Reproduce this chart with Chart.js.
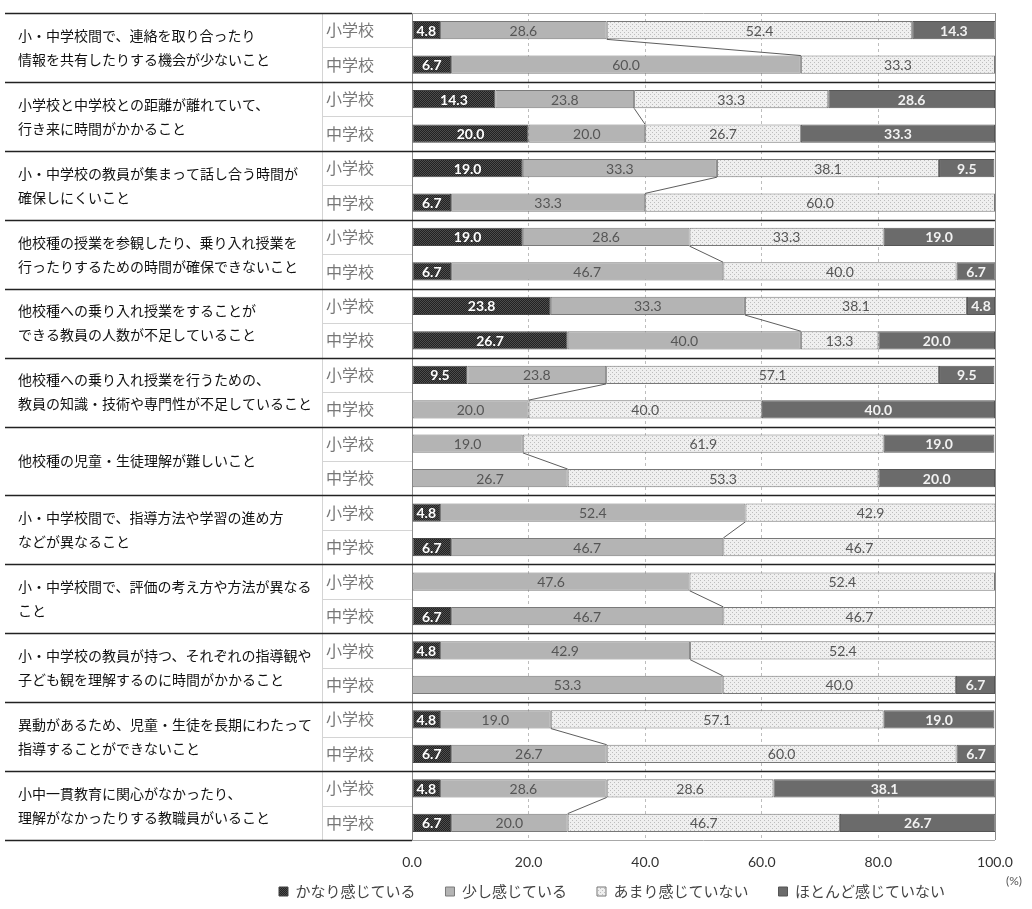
<!DOCTYPE html>
<html>
<head>
<meta charset="utf-8">
<script src="https://cdn.jsdelivr.net/npm/chart.js@4.4.1/dist/chart.umd.min.js"></script>
<style>
  html, body { margin: 0; padding: 0; background: #fff; }
</style>
</head>
<body>
<canvas id="grafico" width="1032" height="909"></canvas>
<script>
// 課題カテゴリ（2行表示の改行位置は元図どおり）
const categories = [
  ['小・中学校間で、連絡を取り合ったり', '情報を共有したりする機会が少ないこと'],
  ['小学校と中学校との距離が離れていて、', '行き来に時間がかかること'],
  ['小・中学校の教員が集まって話し合う時間が', '確保しにくいこと'],
  ['他校種の授業を参観したり、乗り入れ授業を', '行ったりするための時間が確保できないこと'],
  ['他校種への乗り入れ授業をすることが', 'できる教員の人数が不足していること'],
  ['他校種への乗り入れ授業を行うための、', '教員の知識・技術や専門性が不足していること'],
  ['他校種の児童・生徒理解が難しいこと'],
  ['小・中学校間で、指導方法や学習の進め方', 'などが異なること'],
  ['小・中学校間で、評価の考え方や方法が異なる', 'こと'],
  ['小・中学校の教員が持つ、それぞれの指導観や', '子ども観を理解するのに時間がかかること'],
  ['異動があるため、児童・生徒を長期にわたって', '指導することができないこと'],
  ['小中一貫教育に関心がなかったり、', '理解がなかったりする教職員がいること']
];
const schools = ['小学校', '中学校'];
const seriesNames = ['かなり感じている', '少し感じている', 'あまり感じていない', 'ほとんど感じていない'];

// 値は [カテゴリ1 小学校, カテゴリ1 中学校, カテゴリ2 小学校, ...] の順
const kanari  = [4.8, 6.7, 14.3, 20.0, 19.0, 6.7, 19.0, 6.7, 23.8, 26.7, 9.5, 0, 0, 0, 4.8, 6.7, 0, 6.7, 4.8, 0, 4.8, 6.7, 4.8, 6.7];
const sukoshi = [28.6, 60.0, 23.8, 20.0, 33.3, 33.3, 28.6, 46.7, 33.3, 40.0, 23.8, 20.0, 19.0, 26.7, 52.4, 46.7, 47.6, 46.7, 42.9, 53.3, 19.0, 26.7, 28.6, 20.0];
const amari   = [52.4, 33.3, 33.3, 26.7, 38.1, 60.0, 33.3, 40.0, 38.1, 13.3, 57.1, 40.0, 61.9, 53.3, 42.9, 46.7, 52.4, 46.7, 52.4, 40.0, 57.1, 60.0, 28.6, 46.7];
const hotondo = [14.3, 0, 28.6, 33.3, 9.5, 0, 19.0, 6.7, 4.8, 20.0, 9.5, 40.0, 19.0, 20.0, 0, 0, 0, 0, 0, 6.7, 19.0, 6.7, 38.1, 26.7];

const xTicks = [0, 20, 40, 60, 80, 100];

const rowLabels = [];
categories.forEach(() => rowLabels.push(...schools));

function makePattern(bg, dot, size) {
    const c = document.createElement('canvas');
    c.width = size; c.height = size;
    const g = c.getContext('2d');
    g.fillStyle = bg; g.fillRect(0, 0, size, size);
    g.fillStyle = dot;
    g.fillRect(0, 0, 1, 1);
    g.fillRect(size / 2, size / 2, 1, 1);
    return g.createPattern(c, 'repeat');
}

const jpFont = '"Noto Sans CJK JP", "Noto Sans", sans-serif';
const numFont = 'Lato, "Open Sans", sans-serif';

const labelStyles = [
    { color: '#ffffff', weight: 'bold' },
    { color: '#555555', weight: 'normal' },
    { color: '#555555', weight: 'normal' },
    { color: '#f2f2f2', weight: 'bold' }
];

// 数値ラベル
const valueLabels = {
    id: 'valueLabels',
    afterDatasetsDraw(chart) {
        const ctx = chart.ctx;
        ctx.save();
        ctx.textAlign = 'center';
        ctx.textBaseline = 'middle';
        chart.data.datasets.forEach((ds, di) => {
            const st = labelStyles[di];
            ctx.font = st.weight + ' 14px ' + numFont;
            ctx.fillStyle = st.color;
            chart.getDatasetMeta(di).data.forEach((bar, i) => {
                const v = ds.data[i];
                if (!v) return;
                ctx.fillText(v.toFixed(1), (bar.x + bar.base) / 2, bar.y + 1);
            });
        });
        ctx.restore();
    }
};

// 区切り線・項目名・系列線・目盛り
const decorations = {
    id: 'decorations',
    beforeDatasetsDraw(chart) {
        const ctx = chart.ctx;
        const area = chart.chartArea;
        const yScale = chart.scales.y;
        const rowH = yScale.getPixelForValue(1) - yScale.getPixelForValue(0);
        ctx.save();
        // ラベル列の薄い区切り
        ctx.strokeStyle = '#d4d4d4';
        ctx.lineWidth = 1;
        for (let r = 0; r < rowLabels.length; r += 2) {
            const y = Math.round(yScale.getPixelForValue(r) + rowH / 2) + 0.5;
            ctx.beginPath(); ctx.moveTo(322, y); ctx.lineTo(area.left, y); ctx.stroke();
        }
        ctx.beginPath(); ctx.moveTo(322.5, area.top); ctx.lineTo(322.5, area.bottom); ctx.stroke();
        // グループ境界
        for (let g = 0; g <= categories.length; g++) {
            const y = Math.round(yScale.getPixelForValue(g * 2) - rowH / 2) + 0.5;
            const edge = g === 0 || g === categories.length;
            ctx.strokeStyle = '#222';
            ctx.lineWidth = 1.3;
            ctx.beginPath(); ctx.moveTo(5, y); ctx.lineTo(edge ? area.left : area.right, y); ctx.stroke();
            if (edge) {
                ctx.strokeStyle = '#a8a8a8';
                ctx.lineWidth = 1;
                ctx.beginPath(); ctx.moveTo(area.left, y); ctx.lineTo(area.right, y); ctx.stroke();
            }
        }
        // 右端 100 の実線
        const x100 = Math.round(chart.scales.x.getPixelForValue(100)) + 0.5;
        ctx.strokeStyle = '#8c8c8c';
        ctx.lineWidth = 1;
        ctx.beginPath(); ctx.moveTo(x100, area.top); ctx.lineTo(x100, area.bottom); ctx.stroke();
        ctx.restore();
    },
    afterDatasetsDraw(chart) {
        const ctx = chart.ctx;
        const meta = chart.getDatasetMeta(1);
        ctx.save();
        ctx.strokeStyle = '#333';
        ctx.lineWidth = 0.8;
        for (let g = 0; g < categories.length; g++) {
            const a = meta.data[g * 2], b = meta.data[g * 2 + 1];
            ctx.beginPath();
            ctx.moveTo(a.x, a.y + a.height / 2);
            ctx.lineTo(b.x, b.y - b.height / 2);
            ctx.stroke();
        }
        ctx.restore();
    },
    afterDraw(chart) {
        const ctx = chart.ctx;
        const yScale = chart.scales.y;
        const xScale = chart.scales.x;
        ctx.save();
        ctx.fillStyle = '#111';
        ctx.font = '14px ' + jpFont;
        ctx.textAlign = 'left';
        ctx.textBaseline = 'middle';
        categories.forEach((lines, g) => {
            const cy = (yScale.getPixelForValue(g * 2) + yScale.getPixelForValue(g * 2 + 1)) / 2;
            const start = cy - (lines.length - 1) * 12;
            lines.forEach((t, k) => ctx.fillText(t, 18, start + k * 24));
        });
        // x 軸目盛りラベル（凡例と重なる位置なので自前で描く）
        ctx.fillStyle = '#333';
        ctx.font = '14px ' + numFont;
        ctx.textAlign = 'center';
        xScale.ticks.forEach(t => {
            ctx.fillText(t.value.toFixed(1), xScale.getPixelForValue(t.value), chart.chartArea.bottom + 22);
        });
        ctx.fillStyle = '#555';
        ctx.font = '12px ' + numFont;
        ctx.textAlign = 'left';
        ctx.fillText('(%)', 1006, 881);
        ctx.restore();
    }
};

const ctx = document.getElementById('grafico').getContext('2d');
const patKanari = makePattern('#222222', '#4d4d4d', 2);
const patAmari = makePattern('#efefef', '#bdbdbd', 4);

window.graficoInstancia = new Chart(ctx, {
    type: 'bar',
    data: {
        labels: rowLabels,
        datasets: [
            { label: seriesNames[0], data: kanari,  backgroundColor: patKanari, borderColor: '#444', borderWidth: 1, borderSkipped: false },
            { label: seriesNames[1], data: sukoshi, backgroundColor: '#b4b4b4', borderColor: '#7a7a7a', borderWidth: 1, borderSkipped: false },
            { label: seriesNames[2], data: amari,   backgroundColor: patAmari,  borderColor: '#777', borderWidth: 1, borderSkipped: false },
            { label: seriesNames[3], data: hotondo, backgroundColor: '#6b6b6b', borderColor: '#555', borderWidth: 1, borderSkipped: false }
        ]
    },
    options: {
        indexAxis: 'y',
        responsive: false,
        devicePixelRatio: 1,
        animation: false,
        layout: { padding: { top: 13, left: 229, right: 37, bottom: 0 } },
        datasets: { bar: { barPercentage: 0.53, categoryPercentage: 1 } },
        scales: {
            x: {
                stacked: true,
                min: 0, max: 100,
                afterBuildTicks(scale) { scale.ticks = xTicks.map(v => ({ value: v })); },
                afterFit(scale) { scale.height = 14; },
                ticks: { display: false },
                grid: {
                    drawTicks: false,
                    color: c => (c.tick && (c.tick.value === 0 || c.tick.value === 100)) ? 'rgba(0,0,0,0)' : '#bdbdbd'
                },
                border: { display: false, dash: [3, 3] }
            },
            y: {
                stacked: true,
                afterFit(scale) { scale.width = 183; },
                ticks: {
                    padding: 0,
                    color: '#777',
                    font: { family: jpFont, size: 16 }
                },
                grid: {
                    display: true,
                    drawOnChartArea: false,
                    drawTicks: true,
                    tickLength: 38,
                    tickColor: 'rgba(0,0,0,0)',
                    color: 'rgba(0,0,0,0)'
                },
                border: { display: true, color: '#8c8c8c', width: 1 }
            }
        },
        plugins: {
            legend: {
                position: 'bottom',
                labels: {
                    boxWidth: 9,
                    boxHeight: 9,
                    padding: 30,
                    color: '#444',
                    font: { family: jpFont, size: 15 }
                }
            },
            tooltip: { enabled: false }
        }
    },
    plugins: [decorations, valueLabels]
});
</script>
</body>
</html>
